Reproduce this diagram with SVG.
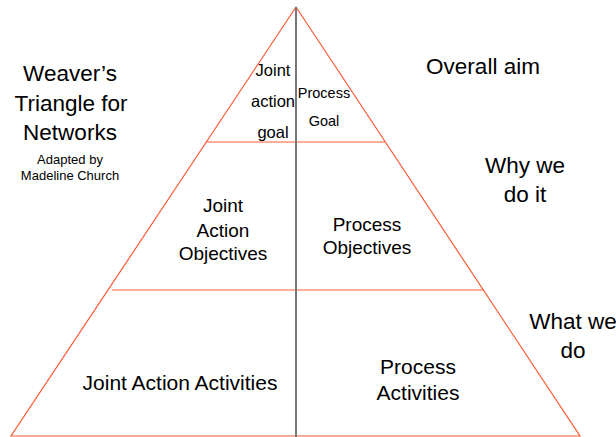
<svg xmlns="http://www.w3.org/2000/svg" width="616" height="437" viewBox="0 0 616 437">
<style>
.t{font-family:"Liberation Sans",Arial,sans-serif;fill:#000;text-anchor:middle}
.r{stroke:#ff5a36;stroke-width:1.2;fill:none}
</style>
<rect width="616" height="437" fill="#fff"/>
<g id="connectors">
<polygon class="r" points="296,7 11,436 580,436"/>
<line class="r" x1="206" y1="142" x2="385" y2="142"/>
<line class="r" x1="112" y1="290" x2="483" y2="290"/>
<line x1="296" y1="7" x2="296" y2="437" stroke="#777" stroke-width="2"/>
</g>
<g id="title">
<text class="t" x="70" y="81" font-size="22.5">Weaver’s</text>
<text class="t" x="71" y="111" font-size="22.5">Triangle for</text>
<text class="t" x="70" y="140" font-size="22.5">Networks</text>
<text class="t" x="70" y="164" font-size="13">Adapted by</text>
<text class="t" x="70" y="180" font-size="13">Madeline Church</text>
</g>
<g id="overall-aim"><text class="t" x="483" y="74" font-size="22.5">Overall aim</text></g>
<g id="why"><text class="t" x="525" y="173" font-size="22.5">Why we</text><text class="t" x="525" y="202" font-size="22.5">do it</text></g>
<g id="what"><text class="t" x="573" y="329" font-size="22.5">What we</text><text class="t" x="573" y="358" font-size="22.5">do</text></g>
<g id="joint-goal">
<text class="t" x="273" y="76" font-size="16.5">Joint</text>
<text class="t" x="273" y="107" font-size="16.5">action</text>
<text class="t" x="273" y="138" font-size="16.5">goal</text>
</g>
<g id="process-goal">
<text class="t" x="324" y="98" font-size="14.5">Process</text>
<text class="t" x="324" y="126" font-size="14.5">Goal</text>
</g>
<g id="joint-objectives">
<text class="t" x="223" y="212" font-size="19">Joint</text>
<text class="t" x="223" y="237" font-size="19">Action</text>
<text class="t" x="223" y="260" font-size="19">Objectives</text>
</g>
<g id="process-objectives">
<text class="t" x="367" y="231" font-size="19">Process</text>
<text class="t" x="367" y="254" font-size="19">Objectives</text>
</g>
<g id="joint-activities"><text class="t" x="180" y="390" font-size="21">Joint Action Activities</text></g>
<g id="process-activities">
<text class="t" x="418" y="374" font-size="21">Process</text>
<text class="t" x="418" y="400" font-size="21">Activities</text>
</g>
</svg>
